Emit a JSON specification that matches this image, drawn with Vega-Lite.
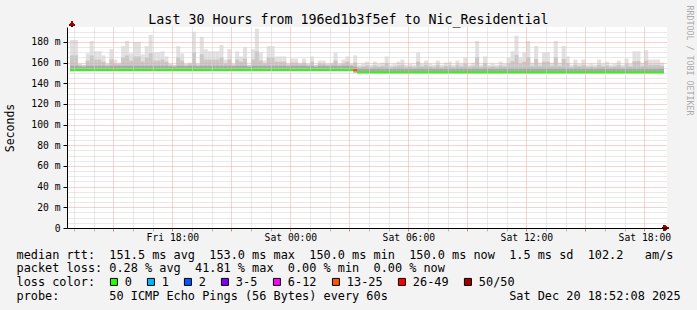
{
  "$schema": "https://vega.github.io/schema/vega-lite/v6.json",
  "width": 600,
  "height": 201,
  "autosize": "none",
  "padding": {"left": 67, "top": 27, "right": 30, "bottom": 82},
  "background": "#f3f3f3",
  "title": {
    "text": "Last 30 Hours from 196ed1b3f5ef to Nic_Residential",
    "font": "DejaVu Sans Mono",
    "fontSize": 13.3,
    "fontWeight": "normal",
    "color": "#000000",
    "anchor": "middle",
    "frame": "group",
    "baseline": "alphabetic",
    "dx": -18.5,
    "dy": 36,
    "offset": 4
  },
  "config": {
    "view": {"fill": "#ffffff", "stroke": null},
    "font": "DejaVu Sans Mono",
    "axis": {"labelFont": "DejaVu Sans Mono", "titleFont": "DejaVu Sans Mono", "labelColor": "#000000", "titleColor": "#000000", "titleFontWeight": "normal"}
  },
  "data": {
    "values": [
      {"t":"2025-12-19T12:54Z","lo":151.8,"d":157,"m":167,"hi":182,"med":153,"loss":"0"},
      {"t":"2025-12-19T13:06Z","lo":151.8,"d":157,"m":167,"hi":182,"med":153,"loss":"0"},
      {"t":"2025-12-19T13:18Z","lo":151.8,"d":156.5,"m":158,"hi":159,"med":153,"loss":"0"},
      {"t":"2025-12-19T13:30Z","lo":151.8,"d":156,"m":157.5,"hi":158,"med":153,"loss":"0"},
      {"t":"2025-12-19T13:42Z","lo":151.8,"d":157,"m":162,"hi":169,"med":153,"loss":"0"},
      {"t":"2025-12-19T13:54Z","lo":151.8,"d":157,"m":167,"hi":181,"med":153,"loss":"0"},
      {"t":"2025-12-19T14:06Z","lo":151.8,"d":157,"m":163,"hi":171,"med":153,"loss":"0"},
      {"t":"2025-12-19T14:18Z","lo":151.8,"d":157,"m":163,"hi":171,"med":153,"loss":"0"},
      {"t":"2025-12-19T14:30Z","lo":151.8,"d":157,"m":161,"hi":167,"med":153,"loss":"0"},
      {"t":"2025-12-19T14:42Z","lo":151.8,"d":156.5,"m":158,"hi":159,"med":153,"loss":"0"},
      {"t":"2025-12-19T14:54Z","lo":151.8,"d":157,"m":163,"hi":173,"med":153,"loss":"0"},
      {"t":"2025-12-19T15:06Z","lo":151.8,"d":157,"m":159,"hi":163,"med":153,"loss":"0"},
      {"t":"2025-12-19T15:18Z","lo":151.8,"d":157,"m":158.5,"hi":160,"med":153,"loss":"0"},
      {"t":"2025-12-19T15:30Z","lo":151.8,"d":157,"m":165,"hi":176,"med":153,"loss":"0"},
      {"t":"2025-12-19T15:42Z","lo":151.8,"d":157,"m":167,"hi":181,"med":153,"loss":"0"},
      {"t":"2025-12-19T15:54Z","lo":151.8,"d":157,"m":162,"hi":169,"med":153,"loss":"0"},
      {"t":"2025-12-19T16:06Z","lo":151.8,"d":157,"m":166,"hi":180,"med":153,"loss":"0"},
      {"t":"2025-12-19T16:18Z","lo":151.8,"d":157,"m":166,"hi":180,"med":153,"loss":"0"},
      {"t":"2025-12-19T16:30Z","lo":151.8,"d":157,"m":161,"hi":168,"med":153,"loss":"0"},
      {"t":"2025-12-19T16:42Z","lo":151.8,"d":157,"m":165,"hi":176,"med":153,"loss":"0"},
      {"t":"2025-12-19T16:54Z","lo":151.8,"d":157,"m":169,"hi":187,"med":153,"loss":"0"},
      {"t":"2025-12-19T17:06Z","lo":151.8,"d":157,"m":162,"hi":170,"med":153,"loss":"0"},
      {"t":"2025-12-19T17:18Z","lo":151.8,"d":157,"m":162,"hi":170,"med":153,"loss":"0"},
      {"t":"2025-12-19T17:30Z","lo":151.8,"d":157,"m":163,"hi":171,"med":153,"loss":"0"},
      {"t":"2025-12-19T17:42Z","lo":151.8,"d":157,"m":161,"hi":166,"med":153,"loss":"0"},
      {"t":"2025-12-19T17:54Z","lo":151.8,"d":156.5,"m":158,"hi":159,"med":153,"loss":"0"},
      {"t":"2025-12-19T18:06Z","lo":151.8,"d":156,"m":157.5,"hi":158,"med":153,"loss":"0"},
      {"t":"2025-12-19T18:18Z","lo":151.8,"d":157,"m":165,"hi":176,"med":153,"loss":"0"},
      {"t":"2025-12-19T18:30Z","lo":151.8,"d":157,"m":162,"hi":169,"med":153,"loss":"0"},
      {"t":"2025-12-19T18:42Z","lo":151.8,"d":156.5,"m":158,"hi":159,"med":153,"loss":"0"},
      {"t":"2025-12-19T18:54Z","lo":151.8,"d":157,"m":158.5,"hi":160,"med":153,"loss":"0"},
      {"t":"2025-12-19T19:06Z","lo":151.8,"d":157,"m":170,"hi":190,"med":153,"loss":"0"},
      {"t":"2025-12-19T19:18Z","lo":151.8,"d":156.5,"m":158,"hi":159,"med":153,"loss":"0"},
      {"t":"2025-12-19T19:30Z","lo":151.8,"d":157,"m":168,"hi":185,"med":153,"loss":"0"},
      {"t":"2025-12-19T19:42Z","lo":151.8,"d":157,"m":163,"hi":173,"med":153,"loss":"0"},
      {"t":"2025-12-19T19:54Z","lo":151.8,"d":157,"m":163,"hi":171,"med":153,"loss":"0"},
      {"t":"2025-12-19T20:06Z","lo":151.8,"d":157,"m":163,"hi":171,"med":153,"loss":"0"},
      {"t":"2025-12-19T20:18Z","lo":151.8,"d":157,"m":163,"hi":171,"med":153,"loss":"0"},
      {"t":"2025-12-19T20:30Z","lo":151.8,"d":157,"m":165,"hi":177,"med":153,"loss":"0"},
      {"t":"2025-12-19T20:42Z","lo":151.8,"d":157,"m":159,"hi":163,"med":153,"loss":"0"},
      {"t":"2025-12-19T20:54Z","lo":151.8,"d":157,"m":163,"hi":173,"med":153,"loss":"0"},
      {"t":"2025-12-19T21:06Z","lo":151.8,"d":156.5,"m":158,"hi":159,"med":153,"loss":"0"},
      {"t":"2025-12-19T21:18Z","lo":151.8,"d":157,"m":163,"hi":171,"med":153,"loss":"0"},
      {"t":"2025-12-19T21:30Z","lo":151.8,"d":157,"m":161,"hi":166,"med":153,"loss":"0"},
      {"t":"2025-12-19T21:42Z","lo":151.8,"d":157,"m":164,"hi":175,"med":153,"loss":"0"},
      {"t":"2025-12-19T21:54Z","lo":151.8,"d":156,"m":157.5,"hi":158,"med":153,"loss":"0"},
      {"t":"2025-12-19T22:06Z","lo":151.8,"d":157,"m":163,"hi":173,"med":153,"loss":"0"},
      {"t":"2025-12-19T22:18Z","lo":151.8,"d":157,"m":171,"hi":193,"med":153,"loss":"0"},
      {"t":"2025-12-19T22:30Z","lo":151.8,"d":157,"m":162,"hi":170,"med":153,"loss":"0"},
      {"t":"2025-12-19T22:42Z","lo":151.8,"d":157,"m":159,"hi":162,"med":153,"loss":"0"},
      {"t":"2025-12-19T22:54Z","lo":151.8,"d":157,"m":165,"hi":176,"med":153,"loss":"0"},
      {"t":"2025-12-19T23:06Z","lo":151.8,"d":157,"m":165,"hi":176,"med":153,"loss":"0"},
      {"t":"2025-12-19T23:18Z","lo":151.8,"d":157,"m":161,"hi":166,"med":153,"loss":"0"},
      {"t":"2025-12-19T23:30Z","lo":151.8,"d":157,"m":161,"hi":166,"med":153,"loss":"0"},
      {"t":"2025-12-19T23:42Z","lo":151.8,"d":157,"m":161,"hi":166,"med":153,"loss":"0"},
      {"t":"2025-12-19T23:54Z","lo":151.8,"d":156.5,"m":158,"hi":159,"med":153,"loss":"0"},
      {"t":"2025-12-20T00:06Z","lo":151.8,"d":157,"m":160,"hi":164,"med":153,"loss":"0"},
      {"t":"2025-12-20T00:18Z","lo":151.8,"d":157,"m":160,"hi":164,"med":153,"loss":"0"},
      {"t":"2025-12-20T00:30Z","lo":151.8,"d":157,"m":158.5,"hi":160,"med":153,"loss":"0"},
      {"t":"2025-12-20T00:42Z","lo":151.8,"d":157,"m":160,"hi":164,"med":153,"loss":"0"},
      {"t":"2025-12-20T00:54Z","lo":151.8,"d":156.5,"m":158,"hi":159,"med":153,"loss":"0"},
      {"t":"2025-12-20T01:06Z","lo":151.8,"d":157,"m":161,"hi":166,"med":153,"loss":"0"},
      {"t":"2025-12-20T01:18Z","lo":151.8,"d":156,"m":157.5,"hi":158,"med":153,"loss":"0"},
      {"t":"2025-12-20T01:30Z","lo":151.8,"d":157,"m":159,"hi":162,"med":153,"loss":"0"},
      {"t":"2025-12-20T01:42Z","lo":151.8,"d":157,"m":159,"hi":162,"med":153,"loss":"0"},
      {"t":"2025-12-20T01:54Z","lo":151.8,"d":156.5,"m":158,"hi":159,"med":153,"loss":"0"},
      {"t":"2025-12-20T02:06Z","lo":151.8,"d":157,"m":158.5,"hi":160,"med":153,"loss":"0"},
      {"t":"2025-12-20T02:18Z","lo":151.8,"d":157,"m":162,"hi":170,"med":153,"loss":"0"},
      {"t":"2025-12-20T02:30Z","lo":151.8,"d":156.5,"m":158,"hi":159,"med":153,"loss":"0"},
      {"t":"2025-12-20T02:42Z","lo":151.8,"d":157,"m":159,"hi":163,"med":153,"loss":"0"},
      {"t":"2025-12-20T02:54Z","lo":151.8,"d":157,"m":161,"hi":166,"med":153,"loss":"0"},
      {"t":"2025-12-20T03:06Z","lo":151.8,"d":156.5,"m":158,"hi":159,"med":153,"loss":"0"},
      {"t":"2025-12-20T03:18Z","lo":150.5,"d":156,"m":160,"hi":167,"med":152.9,"loss":"13-25"},
      {"t":"2025-12-20T03:30Z","lo":149.6,"d":154.5,"m":156,"hi":158,"med":150.6,"loss":"0"},
      {"t":"2025-12-20T03:42Z","lo":149.6,"d":155,"m":156.5,"hi":159,"med":150.6,"loss":"0"},
      {"t":"2025-12-20T03:54Z","lo":149.6,"d":155,"m":157.4,"hi":161,"med":150.6,"loss":"0"},
      {"t":"2025-12-20T04:06Z","lo":149.6,"d":154.5,"m":156,"hi":158,"med":150.6,"loss":"0"},
      {"t":"2025-12-20T04:18Z","lo":149.6,"d":155,"m":157.4,"hi":161,"med":150.6,"loss":"0"},
      {"t":"2025-12-20T04:30Z","lo":149.6,"d":155,"m":156.5,"hi":159,"med":150.6,"loss":"0"},
      {"t":"2025-12-20T04:42Z","lo":149.6,"d":155,"m":157,"hi":160,"med":150.6,"loss":"0"},
      {"t":"2025-12-20T04:54Z","lo":149.6,"d":155,"m":159.5,"hi":166,"med":150.6,"loss":"0"},
      {"t":"2025-12-20T05:06Z","lo":149.6,"d":154.5,"m":156,"hi":158,"med":150.6,"loss":"0"},
      {"t":"2025-12-20T05:18Z","lo":149.6,"d":155,"m":156.5,"hi":159,"med":150.6,"loss":"0"},
      {"t":"2025-12-20T05:30Z","lo":149.6,"d":155,"m":157.4,"hi":161,"med":150.6,"loss":"0"},
      {"t":"2025-12-20T05:42Z","lo":149.6,"d":155,"m":158,"hi":163,"med":150.6,"loss":"0"},
      {"t":"2025-12-20T05:54Z","lo":149.6,"d":154.5,"m":156,"hi":158,"med":150.6,"loss":"0"},
      {"t":"2025-12-20T06:06Z","lo":149.6,"d":155,"m":156.5,"hi":159,"med":150.6,"loss":"0"},
      {"t":"2025-12-20T06:18Z","lo":149.6,"d":154.5,"m":156,"hi":158,"med":150.6,"loss":"0"},
      {"t":"2025-12-20T06:30Z","lo":149.6,"d":155,"m":161,"hi":170,"med":150.6,"loss":"0"},
      {"t":"2025-12-20T06:42Z","lo":149.6,"d":155,"m":156.5,"hi":159,"med":150.6,"loss":"0"},
      {"t":"2025-12-20T06:54Z","lo":149.6,"d":155,"m":158,"hi":162,"med":150.6,"loss":"0"},
      {"t":"2025-12-20T07:06Z","lo":149.6,"d":155,"m":156.5,"hi":159,"med":150.6,"loss":"0"},
      {"t":"2025-12-20T07:18Z","lo":149.6,"d":154.5,"m":156,"hi":158,"med":150.6,"loss":"0"},
      {"t":"2025-12-20T07:30Z","lo":149.6,"d":155,"m":158,"hi":162,"med":150.6,"loss":"0"},
      {"t":"2025-12-20T07:42Z","lo":149.6,"d":154.5,"m":156,"hi":158,"med":150.6,"loss":"0"},
      {"t":"2025-12-20T07:54Z","lo":149.6,"d":155,"m":157,"hi":160,"med":150.6,"loss":"0"},
      {"t":"2025-12-20T08:06Z","lo":149.6,"d":155,"m":157.4,"hi":161,"med":150.6,"loss":"0"},
      {"t":"2025-12-20T08:18Z","lo":149.6,"d":154.5,"m":156,"hi":158,"med":150.6,"loss":"0"},
      {"t":"2025-12-20T08:30Z","lo":149.6,"d":155,"m":158,"hi":162,"med":150.6,"loss":"0"},
      {"t":"2025-12-20T08:42Z","lo":149.6,"d":155,"m":156.5,"hi":159,"med":150.6,"loss":"0"},
      {"t":"2025-12-20T08:54Z","lo":149.6,"d":155,"m":159,"hi":165,"med":150.6,"loss":"0"},
      {"t":"2025-12-20T09:06Z","lo":149.6,"d":154.5,"m":156,"hi":158,"med":150.6,"loss":"0"},
      {"t":"2025-12-20T09:18Z","lo":149.6,"d":155,"m":157,"hi":160,"med":150.6,"loss":"0"},
      {"t":"2025-12-20T09:30Z","lo":149.6,"d":155,"m":165.5,"hi":181,"med":150.6,"loss":"0"},
      {"t":"2025-12-20T09:42Z","lo":149.6,"d":154.5,"m":156,"hi":158,"med":150.6,"loss":"0"},
      {"t":"2025-12-20T09:54Z","lo":149.6,"d":155,"m":159.5,"hi":166,"med":150.6,"loss":"0"},
      {"t":"2025-12-20T10:06Z","lo":149.6,"d":154.5,"m":156,"hi":158,"med":150.6,"loss":"0"},
      {"t":"2025-12-20T10:18Z","lo":149.6,"d":155,"m":156.5,"hi":159,"med":150.6,"loss":"0"},
      {"t":"2025-12-20T10:30Z","lo":149.6,"d":154.5,"m":156,"hi":158,"med":150.6,"loss":"0"},
      {"t":"2025-12-20T10:42Z","lo":149.6,"d":155,"m":157.4,"hi":161,"med":150.6,"loss":"0"},
      {"t":"2025-12-20T10:54Z","lo":149.6,"d":155,"m":156.5,"hi":159,"med":150.6,"loss":"0"},
      {"t":"2025-12-20T11:06Z","lo":149.6,"d":155,"m":159,"hi":165,"med":150.6,"loss":"0"},
      {"t":"2025-12-20T11:18Z","lo":149.6,"d":155,"m":161.5,"hi":171,"med":150.6,"loss":"0"},
      {"t":"2025-12-20T11:30Z","lo":149.6,"d":155,"m":167.5,"hi":186,"med":150.6,"loss":"0"},
      {"t":"2025-12-20T11:42Z","lo":149.6,"d":155,"m":159,"hi":165,"med":150.6,"loss":"0"},
      {"t":"2025-12-20T11:54Z","lo":149.6,"d":155,"m":161,"hi":170,"med":150.6,"loss":"0"},
      {"t":"2025-12-20T12:06Z","lo":149.6,"d":155,"m":165.5,"hi":181,"med":150.6,"loss":"0"},
      {"t":"2025-12-20T12:18Z","lo":149.6,"d":155,"m":157,"hi":160,"med":150.6,"loss":"0"},
      {"t":"2025-12-20T12:30Z","lo":149.6,"d":155,"m":163.5,"hi":176,"med":150.6,"loss":"0"},
      {"t":"2025-12-20T12:42Z","lo":149.6,"d":155,"m":157,"hi":160,"med":150.6,"loss":"0"},
      {"t":"2025-12-20T12:54Z","lo":149.6,"d":155,"m":161,"hi":170,"med":150.6,"loss":"0"},
      {"t":"2025-12-20T13:06Z","lo":149.6,"d":155,"m":161,"hi":170,"med":150.6,"loss":"0"},
      {"t":"2025-12-20T13:18Z","lo":149.6,"d":155,"m":157,"hi":160,"med":150.6,"loss":"0"},
      {"t":"2025-12-20T13:30Z","lo":149.6,"d":155,"m":165.5,"hi":181,"med":150.6,"loss":"0"},
      {"t":"2025-12-20T13:42Z","lo":149.6,"d":155,"m":157,"hi":160,"med":150.6,"loss":"0"},
      {"t":"2025-12-20T13:54Z","lo":149.6,"d":155,"m":163.5,"hi":176,"med":150.6,"loss":"0"},
      {"t":"2025-12-20T14:06Z","lo":149.6,"d":155,"m":159.5,"hi":166,"med":150.6,"loss":"0"},
      {"t":"2025-12-20T14:18Z","lo":149.6,"d":154.5,"m":156,"hi":158,"med":150.6,"loss":"0"},
      {"t":"2025-12-20T14:30Z","lo":149.6,"d":155,"m":158,"hi":163,"med":150.6,"loss":"0"},
      {"t":"2025-12-20T14:42Z","lo":149.6,"d":155,"m":156.5,"hi":159,"med":150.6,"loss":"0"},
      {"t":"2025-12-20T14:54Z","lo":149.6,"d":155,"m":158,"hi":163,"med":150.6,"loss":"0"},
      {"t":"2025-12-20T15:06Z","lo":149.6,"d":154.5,"m":156,"hi":158,"med":150.6,"loss":"0"},
      {"t":"2025-12-20T15:18Z","lo":149.6,"d":155,"m":156.5,"hi":159,"med":150.6,"loss":"0"},
      {"t":"2025-12-20T15:30Z","lo":149.6,"d":154.5,"m":156,"hi":158,"med":150.6,"loss":"0"},
      {"t":"2025-12-20T15:42Z","lo":149.6,"d":155,"m":158,"hi":163,"med":150.6,"loss":"0"},
      {"t":"2025-12-20T15:54Z","lo":149.6,"d":155,"m":156.5,"hi":159,"med":150.6,"loss":"0"},
      {"t":"2025-12-20T16:06Z","lo":149.6,"d":155,"m":157.4,"hi":161,"med":150.6,"loss":"0"},
      {"t":"2025-12-20T16:18Z","lo":149.6,"d":154.5,"m":156,"hi":158,"med":150.6,"loss":"0"},
      {"t":"2025-12-20T16:30Z","lo":149.6,"d":155,"m":156.5,"hi":159,"med":150.6,"loss":"0"},
      {"t":"2025-12-20T16:42Z","lo":149.6,"d":155,"m":158,"hi":162,"med":150.6,"loss":"0"},
      {"t":"2025-12-20T16:54Z","lo":149.6,"d":154.5,"m":156,"hi":158,"med":150.6,"loss":"0"},
      {"t":"2025-12-20T17:06Z","lo":149.6,"d":155,"m":158.5,"hi":164,"med":150.6,"loss":"0"},
      {"t":"2025-12-20T17:18Z","lo":149.6,"d":155,"m":156.5,"hi":159,"med":150.6,"loss":"0"},
      {"t":"2025-12-20T17:30Z","lo":149.6,"d":155,"m":161.5,"hi":171,"med":150.6,"loss":"0"},
      {"t":"2025-12-20T17:42Z","lo":149.6,"d":155,"m":161.5,"hi":171,"med":150.6,"loss":"0"},
      {"t":"2025-12-20T17:54Z","lo":149.6,"d":155,"m":157,"hi":160,"med":150.6,"loss":"0"},
      {"t":"2025-12-20T18:06Z","lo":149.6,"d":155,"m":162,"hi":172,"med":150.6,"loss":"0"},
      {"t":"2025-12-20T18:18Z","lo":149.6,"d":155,"m":158,"hi":163,"med":150.6,"loss":"0"},
      {"t":"2025-12-20T18:30Z","lo":149.6,"d":155,"m":158,"hi":163,"med":150.6,"loss":"0"},
      {"t":"2025-12-20T18:42Z","lo":149.6,"d":155,"m":158,"hi":163,"med":150.6,"loss":"0"},
      {"t":"2025-12-20T18:54Z","lo":149.6,"d":155,"m":157,"hi":160,"med":150.6,"loss":"0"}
    ]
  },
  "layer": [
    {
      "mark": {"type": "bar", "width": 4, "color": "#e1e1e1", "clip": true, "orient": "vertical"},
      "encoding": {
        "x": {"field": "t", "type": "temporal",
          "scale": {"type": "utc", "nice": false, "domain": [{"year":2025,"month":12,"date":19,"hours":12,"minutes":54,"utc":true},{"year":2025,"month":12,"date":20,"hours":18,"minutes":54,"utc":true}]},
          "axis": {"orient": "bottom", "title": null, "labels": false, "domain": false, "ticks": true, "tickSize": 3, "tickColor": "#bbbbbb", "grid": true, "gridColor": "#d2d2d2", "gridDash": [1, 1], "zindex": 1,
            "values": [
              {"year":2025,"month":12,"date":19,"hours":13,"utc":true},{"year":2025,"month":12,"date":19,"hours":14,"utc":true},
              {"year":2025,"month":12,"date":19,"hours":16,"utc":true},{"year":2025,"month":12,"date":19,"hours":17,"utc":true},
              {"year":2025,"month":12,"date":19,"hours":19,"utc":true},{"year":2025,"month":12,"date":19,"hours":20,"utc":true},
              {"year":2025,"month":12,"date":19,"hours":22,"utc":true},{"year":2025,"month":12,"date":19,"hours":23,"utc":true},
              {"year":2025,"month":12,"date":20,"hours":1,"utc":true},{"year":2025,"month":12,"date":20,"hours":2,"utc":true},
              {"year":2025,"month":12,"date":20,"hours":4,"utc":true},{"year":2025,"month":12,"date":20,"hours":5,"utc":true},
              {"year":2025,"month":12,"date":20,"hours":7,"utc":true},{"year":2025,"month":12,"date":20,"hours":8,"utc":true},
              {"year":2025,"month":12,"date":20,"hours":10,"utc":true},{"year":2025,"month":12,"date":20,"hours":11,"utc":true},
              {"year":2025,"month":12,"date":20,"hours":13,"utc":true},{"year":2025,"month":12,"date":20,"hours":14,"utc":true},
              {"year":2025,"month":12,"date":20,"hours":16,"utc":true},{"year":2025,"month":12,"date":20,"hours":17,"utc":true}
            ]}},
        "y": {"field": "lo", "type": "quantitative",
          "scale": {"domain": [0, 194.5], "nice": false, "zero": false},
          "axis": {"orient": "left", "title": null, "labels": false, "domain": false, "ticks": false, "grid": true, "gridColor": "#d2d2d2", "gridDash": [1, 1], "zindex": 1,
            "values": [5,10,15,25,30,35,45,50,55,65,70,75,85,90,95,105,110,115,125,130,135,145,150,155,165,170,175,185,190]}},
        "y2": {"field": "hi"}
      }
    },
    {
      "mark": {"type": "bar", "width": 4, "color": "#c8c8c8", "clip": true, "orient": "vertical"},
      "encoding": {
        "x": {"field": "t", "type": "temporal",
          "scale": {"type": "utc", "nice": false, "domain": [{"year":2025,"month":12,"date":19,"hours":12,"minutes":54,"utc":true},{"year":2025,"month":12,"date":20,"hours":18,"minutes":54,"utc":true}]},
          "axis": {"orient": "bottom", "title": null, "labels": false, "domain": false, "ticks": true, "tickSize": 3, "tickColor": "#f08080", "grid": true, "gridColor": "#f5a3a3", "gridDash": [1, 1], "zindex": 1,
            "values": [
              {"year":2025,"month":12,"date":19,"hours":15,"utc":true},{"year":2025,"month":12,"date":19,"hours":18,"utc":true},
              {"year":2025,"month":12,"date":19,"hours":21,"utc":true},{"year":2025,"month":12,"date":20,"hours":0,"utc":true},
              {"year":2025,"month":12,"date":20,"hours":3,"utc":true},{"year":2025,"month":12,"date":20,"hours":6,"utc":true},
              {"year":2025,"month":12,"date":20,"hours":9,"utc":true},{"year":2025,"month":12,"date":20,"hours":12,"utc":true},
              {"year":2025,"month":12,"date":20,"hours":15,"utc":true},{"year":2025,"month":12,"date":20,"hours":18,"utc":true}
            ]}},
        "y": {"field": "lo", "type": "quantitative",
          "scale": {"domain": [0, 194.5], "nice": false, "zero": false},
          "axis": {"orient": "left", "title": null, "labels": false, "domain": false, "ticks": false, "grid": true, "gridColor": "#f5a3a3", "gridDash": [1, 1], "zindex": 1,
            "values": [20,40,60,80,100,120,140,160,180]}},
        "y2": {"field": "m"}
      }
    },
    {
      "mark": {"type": "bar", "width": 4, "color": "#a8a8a8", "clip": true, "orient": "vertical"},
      "encoding": {
        "x": {"field": "t", "type": "temporal",
          "scale": {"type": "utc", "nice": false, "domain": [{"year":2025,"month":12,"date":19,"hours":12,"minutes":54,"utc":true},{"year":2025,"month":12,"date":20,"hours":18,"minutes":54,"utc":true}]},
          "axis": {"orient": "bottom", "title": null, "labelExpr": "utcFormat(datum.value, '%a %H:%M')", "labelFontSize": 9.7, "labelPadding": 4, "labelFlush": false, "labelOverlap": false,
            "ticks": false, "tickSize": 0, "grid": false, "domain": true, "domainColor": "#000000", "domainWidth": 1, "zindex": 1,
            "values": [
              {"year":2025,"month":12,"date":19,"hours":18,"utc":true},{"year":2025,"month":12,"date":20,"hours":0,"utc":true},
              {"year":2025,"month":12,"date":20,"hours":6,"utc":true},{"year":2025,"month":12,"date":20,"hours":12,"utc":true},
              {"year":2025,"month":12,"date":20,"hours":18,"utc":true}
            ]}},
        "y": {"field": "lo", "type": "quantitative",
          "scale": {"domain": [0, 194.5], "nice": false, "zero": false},
          "axis": {"orient": "left", "values": [0,20,40,60,80,100,120,140,160,180], "labelExpr": "datum.value == 0 ? '0' : datum.value + ' m'", "labelFontSize": 9.7, "labelPadding": 3,
            "ticks": true, "tickSize": 4, "tickColor": "#000000", "grid": false, "domain": true, "domainColor": "#000000", "domainWidth": 1, "zindex": 1,
            "title": "Seconds", "titleFontSize": 11.5, "titleAngle": 270, "titleX": -57, "titleY": 100.5, "titleAlign": "center", "titleBaseline": "middle"}},
        "y2": {"field": "d"}
      }
    },
    {
      "mark": {"type": "tick", "orient": "horizontal", "size": 4, "thickness": 2, "clip": true, "opacity": 1},
      "encoding": {
        "x": {"field": "t", "type": "temporal",
          "scale": {"type": "utc", "nice": false, "domain": [{"year":2025,"month":12,"date":19,"hours":12,"minutes":54,"utc":true},{"year":2025,"month":12,"date":20,"hours":18,"minutes":54,"utc":true}]},
          "axis": {"orient": "bottom", "labels": false, "ticks": false, "domain": false, "grid": false,
            "title": [
              "median rtt:\u00a0\u00a0151.5 ms avg\u00a0\u00a0153.0 ms max\u00a0\u00a0150.0 ms min\u00a0\u00a0150.0 ms now\u00a0\u00a01.5 ms sd\u00a0\u00a0102.2\u00a0\u00a0\u00a0am/s",
              "packet loss: 0.28 % avg\u00a0\u00a041.81 % max\u00a0\u00a00.00 % min\u00a0\u00a00.00 % now",
              "loss color:",
              "probe:\u00a0\u00a0\u00a0\u00a0\u00a0\u00a0\u00a050 ICMP Echo Pings (56 Bytes) every 60s\u00a0\u00a0\u00a0\u00a0\u00a0\u00a0\u00a0\u00a0\u00a0\u00a0\u00a0\u00a0\u00a0\u00a0\u00a0\u00a0\u00a0Sat Dec 20 18:52:08 2025"
            ],
            "titleFontSize": 11.86, "titleLineHeight": 13.8, "titleAlign": "left", "titleBaseline": "alphabetic", "titleX": -51, "titleY": 30, "titleAngle": 0}},
        "y": {"field": "med", "type": "quantitative",
          "scale": {"domain": [0, 194.5], "nice": false, "zero": false},
          "axis": {"orient": "right", "labels": false, "ticks": false, "domain": false, "grid": false,
            "title": "RRDTOOL / TOBI OETIKER", "titleFontSize": 8.3, "titleColor": "#aaaaaa", "titleAngle": 90, "titleX": 21.5, "titleY": 33, "titleAlign": "center", "titleBaseline": "middle"}},
        "color": {"field": "loss", "type": "nominal",
          "scale": {"domain": ["0","1","2","3-5","6-12","13-25","26-49","50/50"], "range": ["#26ff00","#00b8ff","#0059ff","#7e00ff","#ff00ff","#ff5500","#ff0000","#a10000"]},
          "legend": {"orient": "none", "legendX": 41, "legendY": 249, "direction": "horizontal", "columns": 8, "gridAlign": "none",
            "title": null,
            "symbolType": "square", "symbolSize": 49, "symbolStrokeColor": "#000000", "symbolStrokeWidth": 1, "symbolOpacity": 1,
            "labelFont": "DejaVu Sans Mono", "labelFontSize": 11.86, "labelColor": "#000000", "labelOffset": 5, "columnPadding": 13, "padding": 0}}
      }
    },
    {
      "mark": {"type": "rule", "color": "#000000", "strokeWidth": 1},
      "encoding": {
        "x": {"datum": {"year":2025,"month":12,"date":19,"hours":12,"minutes":54,"utc":true}, "type": "temporal",
          "scale": {"type": "utc", "nice": false, "domain": [{"year":2025,"month":12,"date":19,"hours":12,"minutes":54,"utc":true},{"year":2025,"month":12,"date":20,"hours":18,"minutes":54,"utc":true}]}, "axis": null},
        "y": {"datum": 194.5, "type": "quantitative", "scale": {"domain": [0, 194.5], "nice": false, "zero": false}, "axis": null},
        "y2": {"datum": 197}
      }
    },
    {
      "mark": {"type": "rule", "color": "#000000", "strokeWidth": 1},
      "encoding": {
        "x": {"datum": {"year":2025,"month":12,"date":20,"hours":18,"minutes":54,"utc":true}, "type": "temporal",
          "scale": {"type": "utc", "nice": false, "domain": [{"year":2025,"month":12,"date":19,"hours":12,"minutes":54,"utc":true},{"year":2025,"month":12,"date":20,"hours":18,"minutes":54,"utc":true}]}, "axis": null},
        "x2": {"datum": {"year":2025,"month":12,"date":20,"hours":19,"minutes":5,"utc":true}},
        "y": {"datum": 0, "type": "quantitative", "scale": {"domain": [0, 194.5], "nice": false, "zero": false}, "axis": null}
      }
    },
    {
      "mark": {"type": "point", "shape": "triangle-up", "filled": true, "size": 30, "color": "#9b0000", "opacity": 1},
      "encoding": {
        "x": {"datum": {"year":2025,"month":12,"date":19,"hours":12,"minutes":54,"utc":true}, "type": "temporal",
          "scale": {"type": "utc", "nice": false, "domain": [{"year":2025,"month":12,"date":19,"hours":12,"minutes":54,"utc":true},{"year":2025,"month":12,"date":20,"hours":18,"minutes":54,"utc":true}]}, "axis": null},
        "y": {"datum": 197.7, "type": "quantitative", "scale": {"domain": [0, 194.5], "nice": false, "zero": false}, "axis": null}
      }
    },
    {
      "mark": {"type": "point", "shape": "triangle-right", "filled": true, "size": 30, "color": "#9b0000", "opacity": 1},
      "encoding": {
        "x": {"datum": {"year":2025,"month":12,"date":20,"hours":19,"minutes":7,"utc":true}, "type": "temporal",
          "scale": {"type": "utc", "nice": false, "domain": [{"year":2025,"month":12,"date":19,"hours":12,"minutes":54,"utc":true},{"year":2025,"month":12,"date":20,"hours":18,"minutes":54,"utc":true}]}, "axis": null},
        "y": {"datum": 0, "type": "quantitative", "scale": {"domain": [0, 194.5], "nice": false, "zero": false}, "axis": null}
      }
    }
  ],
  "resolve": {"axis": {"x": "independent", "y": "independent"}}
}
